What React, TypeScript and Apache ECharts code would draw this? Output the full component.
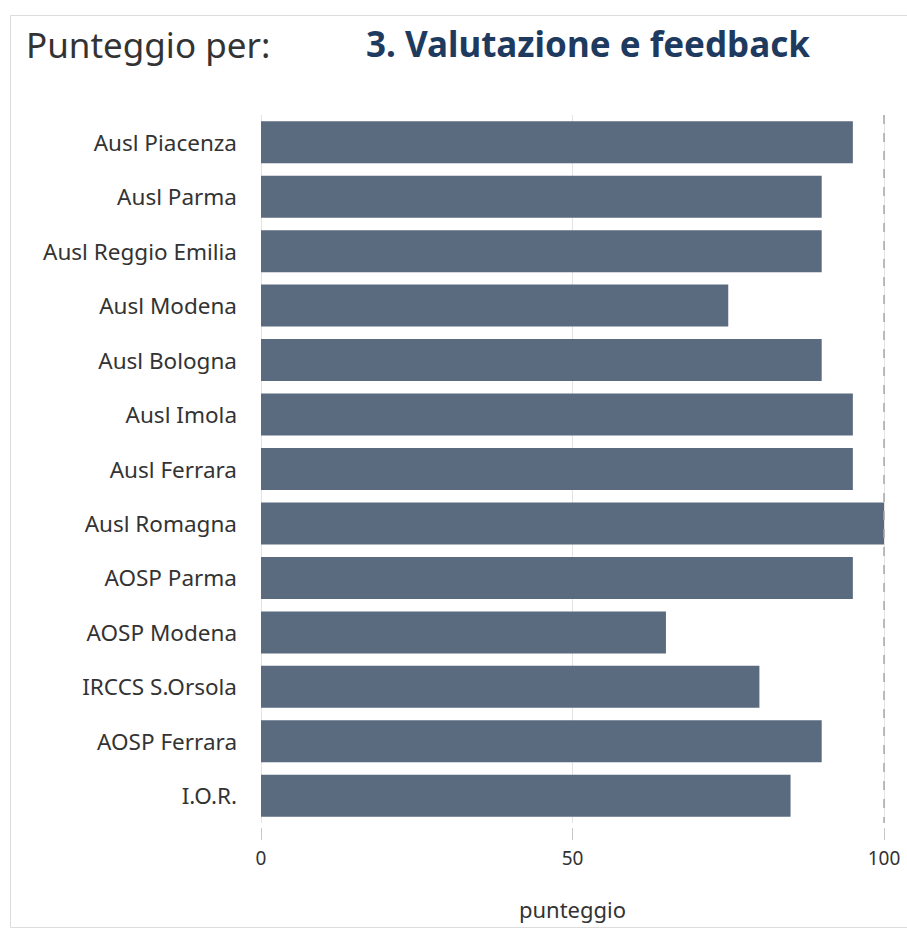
import React, { useEffect, useRef } from "react";
import * as echarts from "echarts";

const categories = [
  "Ausl Piacenza",
  "Ausl Parma",
  "Ausl Reggio Emilia",
  "Ausl Modena",
  "Ausl Bologna",
  "Ausl Imola",
  "Ausl Ferrara",
  "Ausl Romagna",
  "AOSP Parma",
  "AOSP Modena",
  "IRCCS S.Orsola",
  "AOSP Ferrara",
  "I.O.R.",
];
const scores = [95, 90, 90, 75, 90, 95, 95, 100, 95, 65, 80, 90, 85];
const titleLeft = "Punteggio per:";
const titleRight = "3. Valutazione e feedback";
const axisName = "punteggio";

export default function App() {
  const ref = useRef<HTMLDivElement>(null);
  useEffect(() => {
    if (!ref.current) return;
    const chart = echarts.init(ref.current, undefined, { renderer: "svg" });
    const font = "'Noto Sans', 'Open Sans', sans-serif";
    chart.setOption({
      animation: false,
      backgroundColor: "#ffffff",
      graphic: [
        {
          type: "rect",
          shape: { x: 10.5, y: 15.5, width: 920, height: 912 },
          style: { fill: "none", stroke: "#dcdcdc", lineWidth: 1 },
          silent: true,
        },
        {
          type: "text",
          x: 26,
          y: 44,
          style: {
            text: titleLeft,
            fontSize: 35,
            fontFamily: font,
            fill: "#333333",
            verticalAlign: "middle",
          },
        },
        {
          type: "text",
          x: 366,
          y: 43,
          style: {
            text: titleRight,
            fontSize: 35,
            fontWeight: "bold",
            fontFamily: font,
            fill: "#1f3a5f",
            verticalAlign: "middle",
          },
        },
      ],
      grid: { left: 261, right: 23, top: 115, bottom: 109, containLabel: false },
      xAxis: {
        type: "value",
        min: 0,
        max: 100,
        interval: 50,
        offset: 5,
        axisLine: { show: false },
        axisTick: { show: true, length: 12, lineStyle: { color: "#c8c8c8" } },
        axisLabel: { fontSize: 19, color: "#333333", fontFamily: font, margin: 20 },
        splitLine: { show: true, lineStyle: { color: "#e3e3e3", width: 1 } },
        name: axisName,
        nameLocation: "middle",
        nameGap: 70,
        nameTextStyle: { fontSize: 22, color: "#333333", fontFamily: font },
      },
      yAxis: {
        type: "category",
        data: categories,
        inverse: true,
        axisLine: { show: false },
        axisTick: { show: false },
        axisLabel: { fontSize: 22.5, color: "#333333", fontFamily: font, margin: 24 },
        splitLine: { show: false },
      },
      series: [
        {
          type: "bar",
          data: scores,
          barWidth: 42,
          itemStyle: { color: "#5a6a7f" },
          markLine: {
            silent: true,
            symbol: "none",
            label: { show: false },
            lineStyle: { color: "#a8a8a8", type: [9, 9], width: 1.5 },
            data: [{ xAxis: 100 }],
          },
        },
      ],
    });
    return () => chart.dispose();
  }, []);
  return (
    <div
      ref={ref}
      style={{ position: "fixed", left: 0, top: 0, width: 907, height: 932 }}
    />
  );
}
